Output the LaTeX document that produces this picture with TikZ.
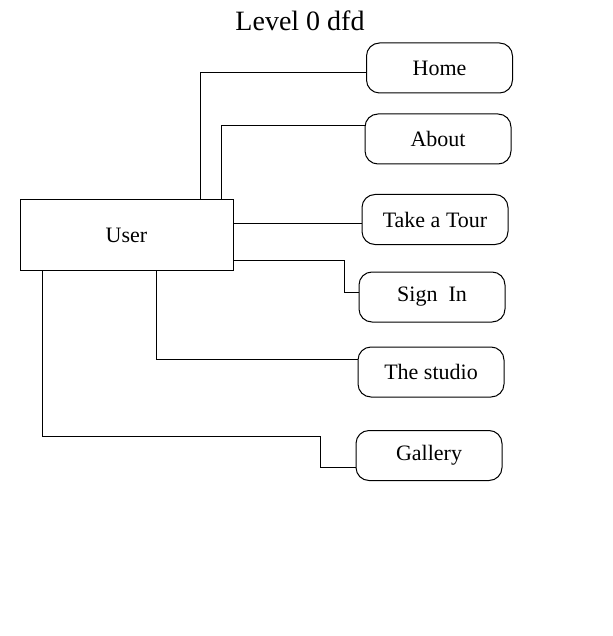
\documentclass[tikz,border=0pt]{standalone}
\usepackage{fontspec}
\setmainfont{Liberation Serif}
\usepackage{tikz}

\begin{document}
\begin{tikzpicture}[
  x=1pt,y=-1pt,
  font=\fontsize{22}{24}\selectfont,
  lnk/.style={draw=black,line width=1pt},
  ent/.style={draw=black,line width=1pt,minimum width=213pt,minimum height=70pt,inner sep=0pt},
  proc/.style={draw=black,line width=1pt,rounded corners=13pt,minimum width=146pt,minimum height=50pt,inner sep=0pt},
  ttl/.style={font=\fontsize{28}{30}\selectfont},
]
\useasboundingbox (0,0) rectangle (612,636);

\node[ttl] (title) at (300,21) {Level 0 dfd};

\node[ent] (user) at (126.5,235) {User};

\node[proc] (home) at (439.5,68) {Home};
\node[proc] (about) at (438,139) {About};
\node[proc] (tour) at (435,219.5) {Take a Tour};
\node[proc] (signin) at (432,297) {Sign\ \ In};
\node[proc] (studio) at (431,372) {The studio};
\node[proc] (gallery) at (429,455.5) {Gallery};

\coordinate (jsign) at (344,260);
\coordinate (jgal) at (320,436);

\draw[lnk] ([xshift=181pt]user.north west) |- ([yshift=-5pt]home.west);
\draw[lnk] ([xshift=202pt]user.north west) |- ([yshift=13pt]about.west);
\draw[lnk] ([yshift=-3.5pt]user.east |- tour.west) -- ([yshift=-3.5pt]tour.west);
\draw[lnk] (user.east |- jsign) -- (jsign) |- ([yshift=5pt]signin.west);
\draw[lnk] ([xshift=137pt]user.south west) |- ([yshift=13pt]studio.west);
\draw[lnk] ([xshift=23pt]user.south west) |- (jgal) -- ++(0,31) -- ([yshift=-11.5pt]gallery.west);
\end{tikzpicture}
\end{document}
